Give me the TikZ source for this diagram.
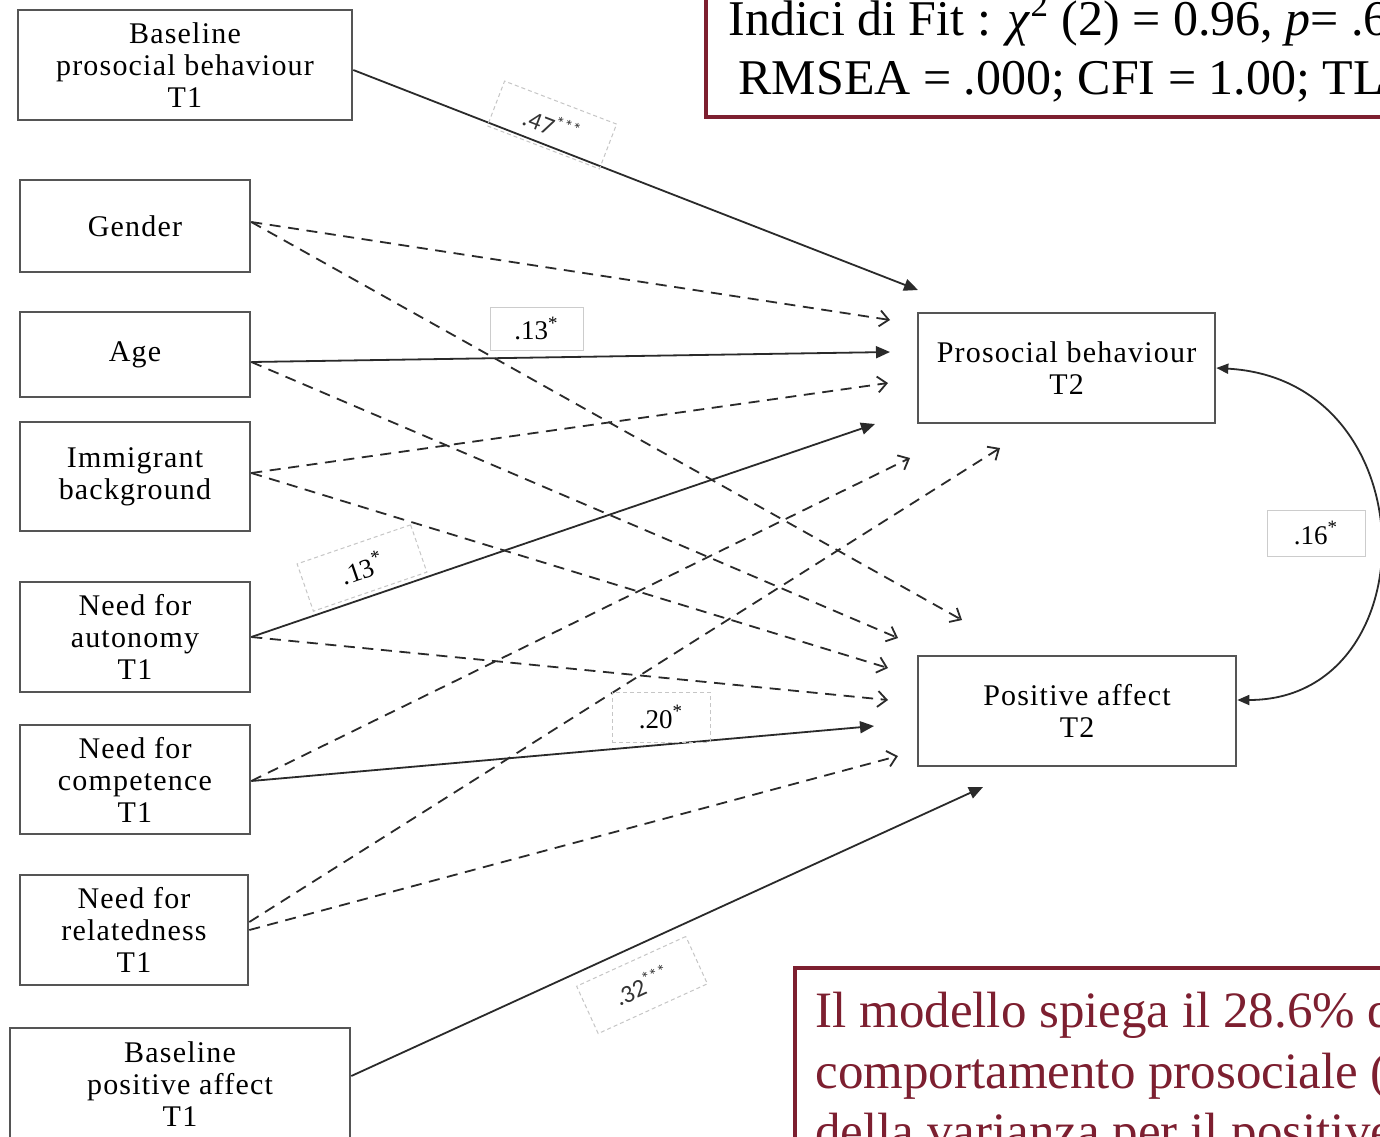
\documentclass[tikz,border=0pt]{standalone}
\usepackage{fontspec}
\setmainfont{Liberation Serif}
\newfontfamily\boxfont{Liberation Serif}[LetterSpace=4]
\newfontfamily\calfont{Carlito}
\usetikzlibrary{arrows.meta}
\definecolor{darkred}{HTML}{7D1F30}
\definecolor{boxgray}{HTML}{555555}
\definecolor{linegray}{HTML}{2A2A2A}
\begin{document}
\begin{tikzpicture}[x=0.5pt,y=-0.5pt,
  box/.style={draw=boxgray, line width=1.3pt, align=center, inner sep=0pt,
    font=\boxfont\fontsize{15}{16}\selectfont},
  solidarr/.style={draw=linegray, line width=0.9pt, -{Triangle[length=7pt,width=6pt]}},
  dasharr/.style={draw=linegray, line width=0.9pt, dash pattern=on 5.5pt off 3.8pt,
    -{Straight Barb[length=4.5pt,width=8pt,line width=0.9pt]}},
  lblsolid/.style={draw=gray!40, line width=0.5pt, inner sep=0pt},
  lbldash/.style={draw=gray!45, line width=0.5pt, dash pattern=on 2pt off 1.5pt, inner sep=0pt},
  serlbl/.style={font=\fontsize{13.5}{14}\selectfont},
  callbl/.style={font=\calfont\fontsize{12.5}{13}\selectfont, text=black!80},
  fitbox/.style={draw=darkred, line width=2pt},
]
\useasboundingbox (0,0) rectangle (1380,1136);
\clip (0,0) rectangle (1380,1136);
\fill[white] (0,0) rectangle (1380,1136);

% boxes
\node[box, minimum width=167pt, minimum height=55pt] (bpb) at (185,65) {Baseline\\prosocial behaviour\\T1};
\node[box, minimum width=115pt, minimum height=46pt] (gen) at (135,226) {Gender};
\node[box, minimum width=115pt, minimum height=42.5pt] (age) at (135,354.5) {Age};
\node[box, minimum width=115pt, minimum height=54.5pt] (imm) at (135,476.5) {Immigrant\\background};
\node[box, minimum width=115pt, minimum height=55pt] (aut) at (135,637) {Need for\\autonomy\\T1};
\node[box, minimum width=115pt, minimum height=54.5pt] (com) at (135,779.5) {Need for\\competence\\T1};
\node[box, minimum width=114pt, minimum height=55pt] (rel) at (134,930) {Need for\\relatedness\\T1};
\node[box, minimum width=170pt, minimum height=56pt] (bpa) at (180,1084) {Baseline\\positive affect\\T1};
\node[box, minimum width=148.5pt, minimum height=55pt] (pb) at (1066.5,368) {Prosocial behaviour\\T2};
\node[box, minimum width=159pt, minimum height=55pt] (pa) at (1077,711) {Positive affect\\T2};

% arrow end coordinates
\coordinate (e1) at (918,290);
\coordinate (gP) at (890,320);
\coordinate (aP) at (890,352);
\coordinate (iP) at (888,383);
\coordinate (nP) at (875,424);
\coordinate (cP) at (910,458);
\coordinate (rP) at (1000,448);
\coordinate (gA) at (962,620);
\coordinate (aA) at (898,638);
\coordinate (iA) at (888,668);
\coordinate (nA) at (888,700);
\coordinate (cA) at (874,726);
\coordinate (rA) at (898,756);
\coordinate (bA) at (983,787);

% connectors
\draw[solidarr] ([yshift=-2.5pt]bpb.east) -- (e1);
\draw[dasharr] ([yshift=2pt]gen.east) -- (gP);
\draw[dasharr] ([yshift=2pt]gen.east) -- (gA);
\draw[solidarr] ([yshift=-3.75pt]age.east) -- (aP);
\draw[dasharr] ([yshift=-3.75pt]age.east) -- (aA);
\draw[dasharr] ([yshift=1.75pt]imm.east) -- (iP);
\draw[dasharr] ([yshift=1.75pt]imm.east) -- (iA);
\draw[solidarr] (aut.east) -- (nP);
\draw[dasharr] (aut.east) -- (nA);
\draw[dasharr] ([yshift=-0.75pt]com.east) -- (cP);
\draw[solidarr] ([yshift=-0.75pt]com.east) -- (cA);
\draw[dasharr] ([yshift=4pt]rel.east) -- (rP);
\draw[dasharr] (rel.east) -- (rA);
\draw[solidarr] ([yshift=4pt]bpa.east) -- (bA);

% covariance
\draw[draw=linegray, line width=0.9pt, {Triangle[length=6pt,width=5pt]}-{Triangle[length=6pt,width=5pt]}]
  (pb.east) .. controls (1430,380) and (1430,700) .. ([yshift=5.5pt]pa.east);

% labels
\node[lbldash, callbl, minimum width=60pt, minimum height=24pt, rotate=-21] (l47) at (552,125) {.47\textsuperscript{***}};
\node[lblsolid, serlbl, minimum width=46.5pt, minimum height=21.5pt] (l13a) at (536.5,328.5) {.13\textsuperscript{*}};
\node[lbldash, serlbl, minimum width=60pt, minimum height=25pt, rotate=19] (l13b) at (362,568) {.13\textsuperscript{*}};
\node[lbldash, serlbl, minimum width=49pt, minimum height=25pt] (l20) at (661,717) {.20\textsuperscript{*}};
\node[lblsolid, serlbl, minimum width=49pt, minimum height=23pt] (l16) at (1316,533) {.16\textsuperscript{*}};
\node[lbldash, callbl, minimum width=60pt, minimum height=26pt, rotate=24.5] (l32) at (642,985) {.32\textsuperscript{***}};

% fit box
\draw[fitbox] (706,-20) rectangle (1420,117);
\node[anchor=base west, inner sep=0pt, font=\fontsize{25}{30}\selectfont] (fit1) at (728,35)
  {Indici di Fit : \textit{χ}\textsuperscript{2} (2) = 0.96, \textit{p}= .62};
\node[anchor=base west, inner sep=0pt, font=\fontsize{25}{30}\selectfont] (fit2) at (738,94)
  {RMSEA = .000; CFI = 1.00; TLI};

% explanation box
\draw[fitbox] (795,968) rectangle (1420,1200);
\node[anchor=base west, inner sep=0pt, text=darkred, font=\fontsize{25.5}{30}\selectfont] (ex1) at (815,1027)
  {Il modello spiega il 28.6\% di};
\node[anchor=base west, inner sep=0pt, text=darkred, font=\fontsize{25.5}{30}\selectfont] (ex2) at (815,1088)
  {comportamento prosociale (};
\node[anchor=base west, inner sep=0pt, text=darkred, font=\fontsize{25.5}{30}\selectfont] (ex3) at (815,1148)
  {della varianza per il positive};
\end{tikzpicture}
\end{document}
